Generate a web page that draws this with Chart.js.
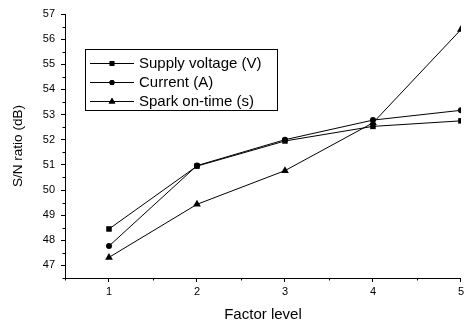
<!DOCTYPE html>
<html>
<head>
<meta charset="utf-8">
<script src="https://cdn.jsdelivr.net/npm/chart.js@4/dist/chart.umd.min.js"></script>
<style>
html,body{margin:0;padding:0;background:#fff;}
#wrap{width:467px;height:325px;position:relative;}
</style>
</head>
<body>
<div id="wrap"><canvas id="c" width="467" height="325"></canvas></div>
<script>
const categories = [1, 2, 3, 4, 5];
const supplyVoltage = [48.45, 50.95, 51.95, 52.53, 52.75];
const current = [47.77, 50.97, 52.0, 52.78, 53.17];
const sparkOnTime = [47.32, 49.43, 50.77, 52.67, 56.38];
const seriesNames = ['Supply voltage (V)', 'Current (A)', 'Spark on-time (s)'];
const seriesMarkers = ['rect', 'circle', 'triangle'];
const seriesRadius = [3.9, 3, 4.5];
const xTickLabels = ['1', '2', '3', '4', '5'];
const yTickLabels = ['47','48','49','50','51','52','53','54','55','56','57'];

const FONT = 'Arial, "Liberation Sans", sans-serif';
const seriesValues = [supplyVoltage, current, sparkOnTime];

const datasets = seriesValues.map((vals, i) => ({
  label: seriesNames[i],
  data: categories.map((c, j) => ({x: c, y: vals[j]})),
  borderColor: '#000',
  backgroundColor: '#000',
  borderWidth: 1,
  pointStyle: seriesMarkers[i],
  pointRadius: seriesRadius[i],
  pointBorderWidth: 0,
  pointBackgroundColor: '#000',
  tension: 0,
  fill: false
}));

const isInt = v => Math.abs(v - Math.round(v)) < 1e-6;

const minorTicks = {
  id: 'minorTicks',
  afterDraw(chart) {
    const ctx = chart.ctx;
    ctx.save();
    ctx.strokeStyle = '#000';
    ctx.lineWidth = 1;
    const xs = chart.scales.x, ys = chart.scales.y;
    const ca = chart.chartArea;
    ctx.beginPath();
    xs.ticks.forEach(t => {
      if (!isInt(t.value)) {
        const px = Math.round(xs.getPixelForValue(t.value)) + 0.5;
        ctx.moveTo(px, ca.bottom);
        ctx.lineTo(px, ca.bottom + 2.5);
      }
    });
    ys.ticks.forEach(t => {
      if (!isInt(t.value)) {
        const py = Math.round(ys.getPixelForValue(t.value)) + 0.5;
        ctx.moveTo(ca.left, py);
        ctx.lineTo(ca.left - 2.5, py);
      }
    });
    ctx.stroke();
    ctx.restore();
  }
};

const boxLegend = {
  id: 'boxLegend',
  afterDraw(chart) {
    const ctx = chart.ctx;
    ctx.save();
    ctx.strokeStyle = '#000';
    ctx.lineWidth = 1;
    ctx.strokeRect(85.5, 49.5, 192, 61);
    ctx.font = '15px ' + FONT;
    ctx.textBaseline = 'middle';
    ctx.fillStyle = '#000';
    chart.data.datasets.forEach((ds, i) => {
      const y = 63.5 + i * 19;
      ctx.beginPath();
      ctx.moveTo(90, y);
      ctx.lineTo(134, y);
      ctx.stroke();
      Chart.helpers.drawPoint(ctx, {pointStyle: ds.pointStyle, radius: ds.pointRadius * 0.85, borderWidth: 0, rotation: 0}, 112, y);
      ctx.fillStyle = '#000';
      ctx.fill();
      ctx.fillText(ds.label, 139, y + 0.5);
    });
    ctx.restore();
  }
};

new Chart(document.getElementById('c'), {
  type: 'line',
  data: { datasets },
  options: {
    responsive: false,
    animation: false,
    layout: { padding: { left: 0, right: 4, top: 14, bottom: 0 } },
    plugins: { legend: { display: false }, tooltip: { enabled: false } },
    scales: {
      x: {
        type: 'linear',
        min: 0.5,
        max: 5,
        afterFit(s) { s.height = 47; },
        ticks: {
          stepSize: 0.5,
          autoSkip: false,
          maxRotation: 0,
          color: '#000',
          font: { family: FONT, size: 11 },
          padding: 3,
          callback: v => isInt(v) ? xTickLabels[categories.indexOf(Math.round(v))] || '' : ''
        },
        grid: {
          drawOnChartArea: false,
          tickLength: 4,
          tickWidth: 1,
          tickColor: c => (c.tick && isInt(c.tick.value)) ? '#000' : 'rgba(0,0,0,0)'
        },
        border: { display: true, color: '#000', width: 1 },
        title: {
          display: true,
          text: 'Factor level',
          color: '#000',
          font: { family: FONT, size: 15 },
          padding: { top: 1, bottom: 1 }
        }
      },
      y: {
        type: 'linear',
        min: 46.5,
        max: 57,
        afterFit(s) { s.width = 65; },
        ticks: {
          stepSize: 0.5,
          autoSkip: false,
          color: '#000',
          font: { family: FONT, size: 11 },
          padding: 6,
          callback: v => isInt(v) ? (yTickLabels.includes(String(Math.round(v))) ? String(Math.round(v)) : '') : ''
        },
        grid: {
          drawOnChartArea: false,
          tickLength: 4,
          tickWidth: 1,
          tickColor: c => (c.tick && isInt(c.tick.value)) ? '#000' : 'rgba(0,0,0,0)'
        },
        border: { display: true, color: '#000', width: 1 },
        title: {
          display: true,
          text: 'S/N ratio (dB)',
          color: '#000',
          font: { family: FONT, size: 13.5 },
          padding: { top: 10, bottom: 10 }
        }
      }
    }
  },
  plugins: [minorTicks, boxLegend]
});
</script>
</body>
</html>
